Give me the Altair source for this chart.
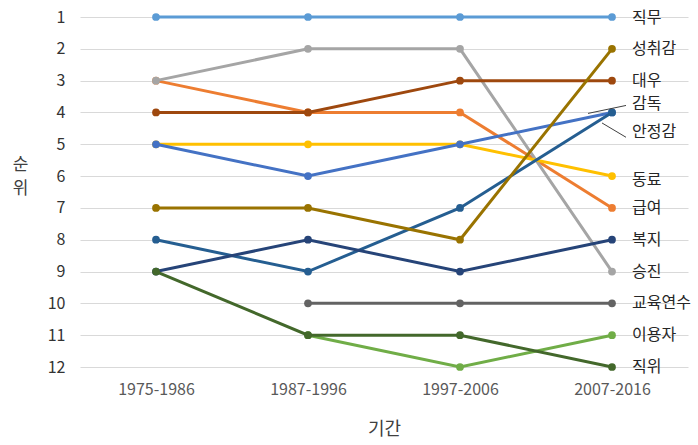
import altair as alt
import pandas as pd

FONT = "Noto Sans CJK KR"

periods = ["1975-1986", "1987-1996", "1997-2006", "2007-2016"]

# series in drawing order (later on top)
names = ["직무", "급여", "승진", "동료", "감독", "이용자", "안정감", "대우", "교육연수", "성취감", "복지", "직위"]
colors = ["#5B9BD5", "#ED7D31", "#A5A5A5", "#FFC000", "#4472C4", "#70AD47",
          "#255E91", "#9E480E", "#636363", "#997300", "#264478", "#43682B"]

rank_job = [1, 1, 1, 1]            # 직무
rank_pay = [3, 4, 4, 7]            # 급여
rank_promo = [3, 2, 2, 9]          # 승진
rank_peer = [5, 5, 5, 6]           # 동료
rank_super = [5, 6, 5, 4]          # 감독
rank_client = [None, 11, 12, 11]   # 이용자
rank_secure = [8, 9, 7, 4]         # 안정감
rank_treat = [4, 4, 3, 3]          # 대우
rank_train = [None, 10, 10, 10]    # 교육연수
rank_achieve = [7, 7, 8, 2]        # 성취감
rank_welfare = [9, 8, 9, 8]        # 복지
rank_position = [9, 11, 11, 12]    # 직위

all_ranks = [rank_job, rank_pay, rank_promo, rank_peer, rank_super, rank_client,
             rank_secure, rank_treat, rank_train, rank_achieve, rank_welfare, rank_position]

rows = []
for n, rs in zip(names, all_ranks):
    for p, r in zip(periods, rs):
        if r is not None:
            rows.append({"series": n, "period": p, "rank": r})
df = pd.DataFrame(rows)

# end labels (감독 / 안정감 share rank 4, so they are nudged apart)
label_nudge = {"감독": -0.26, "안정감": 0.6, "동료": 0.12, "직무": 0.04}
lab_rows = []
for n, rs in zip(names, all_ranks):
    lab_rows.append({"series": n, "period": periods[-1], "rank": rs[-1] + label_nudge.get(n, 0.0)})
df_lab = pd.DataFrame(lab_rows)

color_scale = alt.Scale(domain=names, range=colors)
x_scale = alt.Scale(type="point", domain=periods, padding=0.5)
y_scale = alt.Scale(domain=[1, 12], reverse=True, nice=False, zero=False)

x_axis = alt.Axis(title="기간", labelAngle=0, domain=False, ticks=False,
                  labelPadding=14, labelColor="#595959", labelFontSize=16,
                  labelFont=FONT, titleFont=FONT, titleFontSize=18,
                  titleColor="#404040", titleFontWeight="normal",
                  titlePadding=23)
y_axis = alt.Axis(values=list(range(1, 13)), title=["순", "위"], titleAngle=0,
                  titleX=-60, titleY=147, titleAlign="center", titleBaseline="middle",
                  titleFont=FONT, titleFontSize=17, titleLineHeight=24, titleColor="#404040",
                  titleFontWeight="normal", labelOverlap=False,
                  grid=True, gridColor="#D9D9D9", gridWidth=1,
                  domain=False, ticks=False, labelPadding=15,
                  labelFont=FONT, labelFontSize=16, labelColor="#333333")


def xe():
    return alt.X("period:N", scale=x_scale, axis=x_axis)


def ye(field):
    return alt.Y(field + ":Q", scale=y_scale, axis=y_axis)


layers = []
for n in names:
    layers.append(
        alt.Chart(df).transform_filter(alt.datum.series == n)
        .mark_line(strokeWidth=3, point=alt.OverlayMarkDef(filled=True, size=60, opacity=1))
        .encode(x=xe(), y=ye("rank"),
                color=alt.Color("series:N", scale=color_scale, legend=None))
    )

labels = alt.Chart(df_lab).mark_text(align="left", baseline="middle", dx=20, dy=0,
                                      font=FONT, fontSize=16, color="#262626").encode(
    x=xe(), y=ye("rank"), text="series:N")

lead1 = alt.Chart(pd.DataFrame({"period": [periods[-1]], "rank": [4.03], "r2": [3.78]})).mark_rule(
    color="#404040", strokeWidth=1, xOffset=-24, x2Offset=14).encode(
    x=xe(), x2="period:N", y=ye("rank"), y2="r2:Q")
lead2 = alt.Chart(pd.DataFrame({"period": [periods[-1]], "rank": [4.33], "r2": [4.78]})).mark_rule(
    color="#404040", strokeWidth=1, xOffset=-10, x2Offset=14).encode(
    x=xe(), x2="period:N", y=ye("rank"), y2="r2:Q")

chart = alt.layer(*layers, lead1, lead2, labels).properties(
    width=608, height=350,
    autosize=alt.AutoSizeParams(type="none"),
    padding={"left": 80, "top": 17, "right": 10, "bottom": 78},
    background="white",
).configure_view(stroke=None)

chart.save("out.html", embed_options={"renderer": "svg", "actions": False})
